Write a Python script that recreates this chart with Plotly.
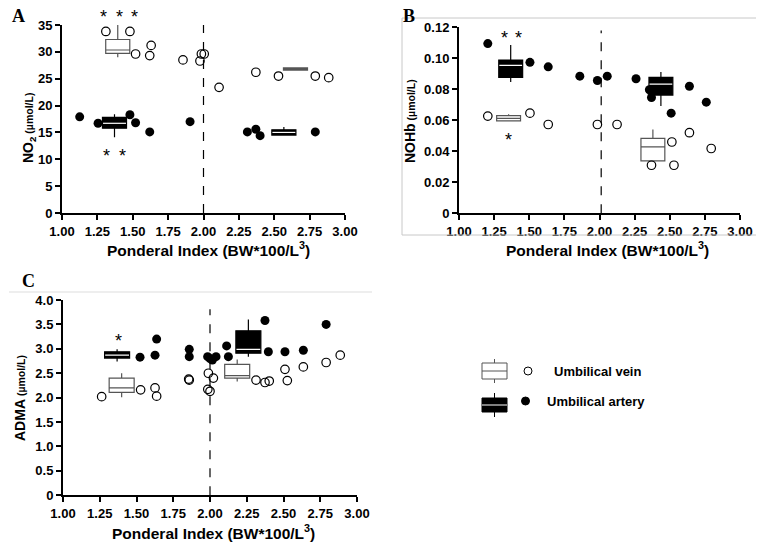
import plotly.graph_objects as go

W, H = 764, 545
OX, OY = 8, 8  # page body margin offset of the rendered figure
def fx(px): return (px - OX) / W
def fy(py): return 1 - (py - OY) / H

FONT = "Arial, Liberation Sans, sans-serif"

# ---------------- data ----------------
x_ticks = [1.00, 1.25, 1.50, 1.75, 2.00, 2.25, 2.50, 2.75, 3.00]
x_ticktext = ["1.00", "1.25", "1.50", "1.75", "2.00", "2.25", "2.50", "2.75", "3.00"]
cutoff_pi = 2.0

# Panel A: NO2
A_vein_x = [1.31, 1.48, 1.52, 1.62, 1.63, 1.855, 1.975, 1.985, 2.005, 2.11, 2.37, 2.53, 2.79, 2.885]
A_vein_y = [33.8, 33.8, 29.6, 29.3, 31.2, 28.5, 28.3, 29.6, 29.6, 23.4, 26.2, 25.5, 25.5, 25.2]
A_art_x = [1.125, 1.255, 1.48, 1.52, 1.62, 1.905, 2.31, 2.37, 2.40, 2.79]
A_art_y = [17.9, 16.7, 18.3, 16.8, 15.1, 17.0, 15.1, 15.6, 14.4, 15.1]
A_vein_box = dict(pos=[1.394, 2.65], q1=[29.7, 26.6], med=[30.35, 26.8], q3=[32.3, 27.0], lo=[29.0, 26.6], hi=[35.0, 27.0])
A_art_box = dict(pos=[1.371, 2.568], q1=[15.8, 14.5], med=[16.7, 15.0], q3=[17.8, 15.5], lo=[14.1, 14.5], hi=[18.4, 16.0])
A_star_x = [1.292, 1.403, 1.511, 1.311, 1.429]
A_star_y = [37.3, 37.3, 37.3, 11.4, 11.4]
A_yrange = [0, 35]
A_yticks = [0, 5, 10, 15, 20, 25, 30, 35]
A_ytext = ["0", "5", "10", "15", "20", "25", "30", "35"]
A_cut_top = 35.4

# Panel B: NOHb
B_art_x = [1.205, 1.505, 1.635, 1.86, 1.985, 2.055, 2.26, 2.355, 2.37, 2.51, 2.64, 2.76]
B_art_y = [0.1095, 0.0974, 0.0945, 0.0885, 0.0857, 0.0885, 0.0868, 0.0797, 0.0747, 0.0646, 0.0820, 0.0717]
B_vein_x = [1.205, 1.505, 1.635, 1.985, 2.125, 2.37, 2.515, 2.53, 2.64, 2.795]
B_vein_y = [0.0627, 0.0646, 0.0573, 0.0573, 0.0573, 0.0310, 0.0460, 0.0310, 0.0520, 0.0418]
B_art_box = dict(pos=[1.368, 2.437], q1=[0.0877, 0.0763], med=[0.0955, 0.0834], q3=[0.0989, 0.0877], lo=[0.0847, 0.0692], hi=[0.1086, 0.0912])
B_vein_box = dict(pos=[1.353, 2.38], q1=[0.0596, 0.0338], med=[0.0613, 0.0428], q3=[0.0630, 0.0484], lo=[0.0596, 0.0338], hi=[0.0639, 0.0540])
B_star_x = [1.322, 1.424, 1.353]
B_star_y = [0.1159, 0.1159, 0.0499]
B_yrange = [0, 0.12]
B_yticks = [0, 0.02, 0.04, 0.06, 0.08, 0.10, 0.12]
B_ytext = ["0", "0.02", "0.04", "0.06", "0.08", "0.10", "0.12"]
B_cut_x = 2.012
B_cut_top = 0.118

# Panel C: ADMA
C_art_x = [1.524, 1.626, 1.637, 1.859, 1.859, 1.984, 2.0, 2.016, 2.041, 2.113, 2.125, 2.374, 2.397, 2.51, 2.635, 2.79]
C_art_y = [2.83, 2.87, 3.20, 2.99, 2.84, 2.84, 2.80, 2.77, 2.84, 3.06, 2.84, 3.58, 2.94, 2.94, 2.97, 3.50]
C_vein_x = [1.263, 1.528, 1.626, 1.637, 1.855, 1.859, 1.989, 1.985, 2.0, 2.023, 2.313, 2.374, 2.403, 2.51, 2.526, 2.635, 2.79, 2.886]
C_vein_y = [2.02, 2.16, 2.20, 2.03, 2.38, 2.36, 2.50, 2.17, 2.13, 2.40, 2.36, 2.31, 2.34, 2.58, 2.35, 2.63, 2.72, 2.87]
C_art_box = dict(pos=[1.368, 2.261], q1=[2.81, 2.91], med=[2.87, 2.99], q3=[2.94, 3.37], lo=[2.74, 2.84], hi=[2.99, 3.60])
C_vein_box = dict(pos=[1.399, 2.185], q1=[2.11, 2.40], med=[2.20, 2.45], q3=[2.40, 2.68], lo=[2.01, 2.33], hi=[2.50, 2.78])
C_star_x = [1.376]
C_star_y = [3.25]
C_yrange = [0, 4.0]
C_yticks = [0, 0.5, 1.0, 1.5, 2.0, 2.5, 3.0, 3.5, 4.0]
C_ytext = ["0", "0.5", "1.0", "1.5", "2.0", "2.5", "3.0", "3.5", "4.0"]
C_cut_top = 3.81

BOX_W = 0.17

fig = go.Figure()
ann = []

def add_panel(xa, ya, yrange, vein_x, vein_y, art_x, art_y, vbox, abox, star_x, star_y, cut_x, cut_top):
    fig.add_trace(go.Scatter(x=[cut_x, cut_x], y=[0, cut_top], mode="lines",
                             line=dict(color="black", width=1.2, dash="dash"),
                             xaxis=xa, yaxis=ya, showlegend=False, hoverinfo="skip", cliponaxis=False))
    fig.add_trace(go.Box(x=vbox["pos"], q1=vbox["q1"], median=vbox["med"], q3=vbox["q3"],
                         lowerfence=vbox["lo"], upperfence=vbox["hi"], width=BOX_W,
                         fillcolor="white", line=dict(color="#555555", width=1.2),
                         whiskerwidth=0, boxpoints=False, xaxis=xa, yaxis=ya, showlegend=False))
    fig.add_trace(go.Box(x=abox["pos"], q1=abox["q1"], median=abox["med"], q3=abox["q3"],
                         lowerfence=abox["lo"], upperfence=abox["hi"], width=BOX_W,
                         fillcolor="black", line=dict(color="black", width=1.2),
                         whiskerwidth=0, boxpoints=False, xaxis=xa, yaxis=ya, showlegend=False))
    mx, my = [], []
    for p, m in zip(abox["pos"], abox["med"]):
        mx += [p - BOX_W / 2 + 0.004, p + BOX_W / 2 - 0.004, None]
        my += [m, m, None]
    fig.add_trace(go.Scatter(x=mx, y=my, mode="lines", line=dict(color="white", width=1.2),
                             xaxis=xa, yaxis=ya, showlegend=False, hoverinfo="skip"))
    fig.add_trace(go.Scatter(x=vein_x, y=vein_y, mode="markers",
                             marker=dict(symbol="circle-open", size=8.5, color="black", line=dict(width=1.2)),
                             xaxis=xa, yaxis=ya, showlegend=False, cliponaxis=False))
    fig.add_trace(go.Scatter(x=art_x, y=art_y, mode="markers",
                             marker=dict(symbol="circle", size=9, color="black"),
                             xaxis=xa, yaxis=ya, showlegend=False, cliponaxis=False))
    # significance asterisks (y given in axis-domain fraction so they may sit above the axis top)
    for sx, sy in zip(star_x, star_y):
        ann.append(dict(x=sx, y=(sy - yrange[0]) / (yrange[1] - yrange[0]), xref=xa, yref=ya + " domain",
                        text="*", showarrow=False, xanchor="center", yanchor="middle", yshift=-4,
                        font=dict(family=FONT, size=18, color="black")))

add_panel("x", "y", A_yrange, A_vein_x, A_vein_y, A_art_x, A_art_y, A_vein_box, A_art_box, A_star_x, A_star_y, cutoff_pi, A_cut_top)
add_panel("x2", "y2", B_yrange, B_vein_x, B_vein_y, B_art_x, B_art_y, B_vein_box, B_art_box, B_star_x, B_star_y, B_cut_x, B_cut_top)
add_panel("x3", "y3", C_yrange, C_vein_x, C_vein_y, C_art_x, C_art_y, C_vein_box, C_art_box, C_star_x, C_star_y, cutoff_pi, C_cut_top)

tickfont = dict(family=FONT, size=13, color="black", weight="bold")
def xaxis(dom, anchor):
    return dict(domain=dom, anchor=anchor, range=[1, 3], tickvals=x_ticks, ticktext=x_ticktext,
                showline=True, linewidth=2, linecolor="black", ticks="outside", ticklen=5,
                tickwidth=2, tickcolor="black", showgrid=False, zeroline=False, tickfont=tickfont,
                automargin=False)
def yaxis(dom, anchor, rng, tv, tt):
    return dict(domain=dom, anchor=anchor, range=rng, tickvals=tv, ticktext=tt,
                showline=True, linewidth=2, linecolor="black", ticks="outside", ticklen=5,
                tickwidth=2, tickcolor="black", showgrid=False, zeroline=False, tickfont=tickfont,
                automargin=False)

layout = dict(
    width=W, height=H, autosize=False,
    margin=dict(l=0, r=0, t=0, b=0, pad=0, autoexpand=False),
    paper_bgcolor="white", plot_bgcolor="white", boxmode="overlay", showlegend=False,
    xaxis=xaxis([fx(62), fx(345)], "y"),
    yaxis=yaxis([fy(213), fy(25)], "x", A_yrange, A_yticks, A_ytext),
    xaxis2=xaxis([fx(459), fx(740)], "y2"),
    yaxis2=yaxis([fy(213.3), fy(27.3)], "x2", B_yrange, B_yticks, B_ytext),
    xaxis3=xaxis([fx(63), fx(357)], "y3"),
    yaxis3=yaxis([fy(495.3), fy(300)], "x3", C_yrange, C_yticks, C_ytext),
)
fig.update_layout(**layout)

def text(px, py, t, size, angle=0, family=FONT, xanchor="center"):
    ann.append(dict(x=fx(px), y=fy(py), xref="paper", yref="paper", text=t, showarrow=False,
                    textangle=angle, xanchor=xanchor, yanchor="middle",
                    font=dict(family=family, size=size, color="black", weight="bold")))

unit = "<span style='font-size:10.5px'> (µmol/L)</span>"
text(29, 128, "NO<sub>2</sub>" + unit, 14, -90)
text(410, 121, "NOHb" + unit, 14, -90)
text(20, 398, "ADMA" + unit, 14, -90)
xt = "Ponderal Index (BW*100/L<sup>3</sup>)"
text(208, 249, xt, 15.5)
text(607, 249, xt, 15.5)
text(213, 532, xt, 15.5)
serif = "Times New Roman, Liberation Serif, DejaVu Serif, serif"
text(18, 16, "A", 18, family=serif)
text(409, 16, "B", 18, family=serif)
text(28, 281, "C", 18, family=serif)
text(552, 371, "Umbilical vein", 13, xanchor="left")
text(545, 401, "Umbilical artery", 13, xanchor="left")

def pline(x0, y0, x1, y1, color, width=1):
    return dict(type="line", xref="paper", yref="paper", x0=fx(x0), x1=fx(x1), y0=fy(y0), y1=fy(y1),
                line=dict(color=color, width=width))
def prect(x0, y0, x1, y1, line, fill=None, typ="rect"):
    d = dict(type=typ, xref="paper", yref="paper", x0=fx(x0), x1=fx(x1), y0=fy(y1), y1=fy(y0),
             line=dict(color=line, width=1))
    if fill:
        d["fillcolor"] = fill
    return d

shapes = [
    prect(402, 18, 761, 235, "#c8c8c8"),
    pline(9, 292, 372, 292, "#dddddd"),
    # legend: vein
    pline(494.5, 359, 494.5, 383, "#555555"),
    prect(482, 363, 507, 379, "#555555", "white"),
    pline(482, 371, 507, 371, "#555555"),
    prect(524, 367, 532, 375, "black", None, "circle"),
    # legend: artery
    pline(494.5, 393, 494.5, 417, "black"),
    prect(482, 398, 507, 412, "black", "black"),
    pline(482, 405, 507, 405, "white"),
    prect(521.5, 397, 529.5, 405, "black", "black", "circle"),
]

fig.update_layout(annotations=ann, shapes=shapes)
fig.write_html("out.html")
